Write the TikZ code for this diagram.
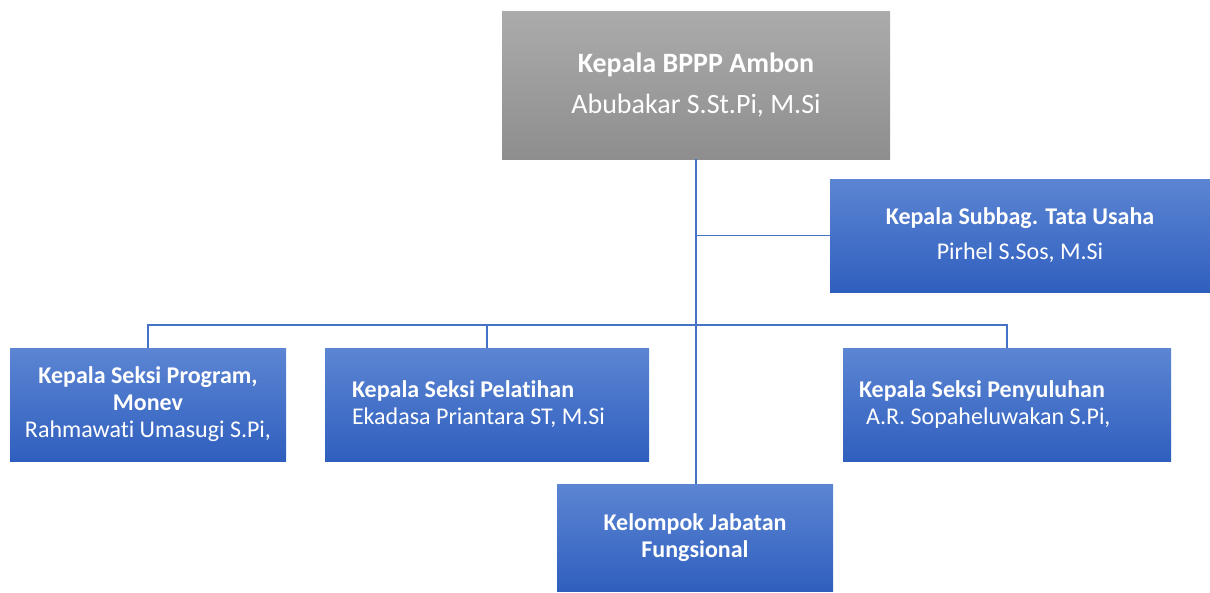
\documentclass[tikz,border=0pt]{standalone}
\usepackage{fontspec}
\setmainfont{Carlito}[Ligatures={NoCommon}]
\usetikzlibrary{positioning}
\definecolor{orgblue}{HTML}{4472C4}
\definecolor{bluetop}{HTML}{5C85D3}
\definecolor{bluebot}{HTML}{2F5FBE}
\definecolor{greytop}{HTML}{ABABAB}
\definecolor{greybot}{HTML}{8E8E8E}
\tikzset{%
  headbox/.style={rectangle,top color=greytop,bottom color=greybot,draw=none,text=white,inner sep=0pt,align=center,font=\fontsize{28}{34}\selectfont}
}
\tikzset{%
  unitbox/.style={rectangle,top color=bluetop,bottom color=bluebot,draw=none,text=white,inner sep=0pt,align=center,minimum height=113pt,font=\fontsize{24}{27}\selectfont}
}
\tikzset{orgline/.style={draw=orgblue,line width=1.4pt}}

\begin{document}
\begin{tikzpicture}[x=1pt,y=-1pt]
        \useasboundingbox (0,0) rectangle (1210,592);
        \node[headbox,minimum width=388pt,minimum height=148pt](kepala) at (696,85)
          {\textbf{Kepala BPPP Ambon}\\[7pt]Abubakar S.St.Pi, M.Si};
        \node[unitbox,minimum width=380pt](subbag) at (1020,235.5)
          {\textbf{Kepala Subbag. Tata Usaha}\\[8pt]Pirhel S.Sos, M.Si};

        \node[unitbox,minimum width=276pt](program) at (148,404.5)
          {\textbf{Kepala Seksi Program,}\\\textbf{Monev}\\Rahmawati Umasugi S.Pi,};
        \node[unitbox,align=flush left,inner xsep=27pt,text width=270pt](pelatihan) at (487,404.5)
          {\textbf{Kepala Seksi Pelatihan}\\Ekadasa Priantara ST, M.Si};
        \node[unitbox,align=flush left,inner xsep=16pt,text width=296pt](penyuluhan) at (1007,404.5)
          {\textbf{Kepala Seksi Penyuluhan}\\\hspace*{7pt}A.R. Sopaheluwakan S.Pi,};
        \node[unitbox,minimum width=276pt,minimum height=107pt](fungsional) at (695,537.5)
          {\textbf{Kelompok Jabatan}\\\textbf{Fungsional}};

        \coordinate (busy) at (0,325);
        \draw[orgline] (kepala.south) -- (kepala.south |- fungsional.north);
        \draw[orgline] (kepala.south |- subbag.west) -- (subbag.west);
        \draw[orgline] (program.north) -- (program.north |- busy) -- (penyuluhan.north |- busy) -- (penyuluhan.north);
        \draw[orgline] (pelatihan.north |- busy) -- (pelatihan.north);
      \end{tikzpicture}
\end{document}
